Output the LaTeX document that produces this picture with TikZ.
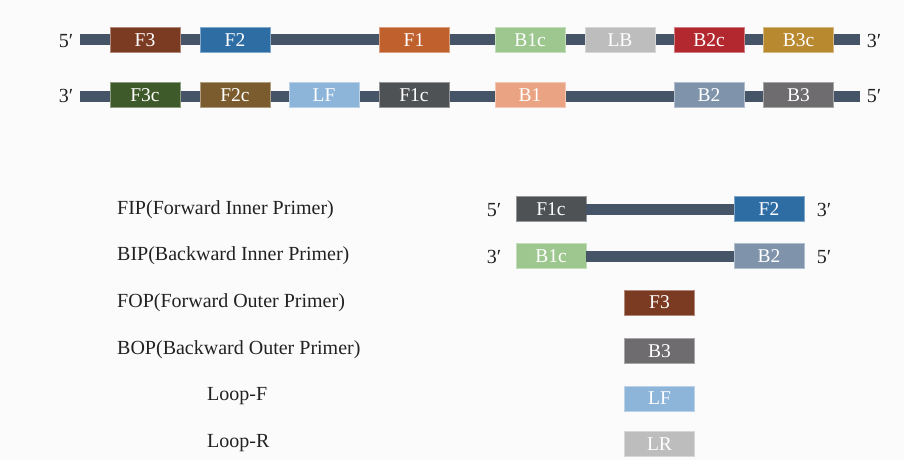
\documentclass[tikz,border=0pt]{standalone}
\usepackage{fontspec}
\setmainfont{Liberation Serif}
\definecolor{bar}{HTML}{465468}
\definecolor{cF3}{HTML}{7B3B23}
\definecolor{cF2}{HTML}{2E6DA4}
\definecolor{cF1}{HTML}{C0602C}
\definecolor{cB1c}{HTML}{9DC78F}
\definecolor{cLB}{HTML}{BDBDBD}
\definecolor{cB2c}{HTML}{B3282E}
\definecolor{cB3c}{HTML}{B8892F}
\definecolor{cF3c}{HTML}{3F5A2A}
\definecolor{cF2c}{HTML}{7A5C2E}
\definecolor{cLF}{HTML}{8DB4D9}
\definecolor{cF1c}{HTML}{4F5254}
\definecolor{cB1}{HTML}{EBA483}
\definecolor{cB2}{HTML}{7F93AB}
\definecolor{cB3}{HTML}{6E6C6E}
\definecolor{bg}{HTML}{FBFBFB}
\definecolor{txt}{HTML}{222222}
\begin{document}
\begin{tikzpicture}[x=1pt,y=-1pt,
  seg/.style={fill=#1, draw=#1!60!white, line width=0.6pt, minimum width=70pt, minimum height=25pt, inner sep=0pt, text=white, font=\fontsize{19.5}{19.5}\selectfont},
  strand/.style={draw=bar, line width=11pt},
  endlbl/.style={text=txt, font=\fontsize{20}{20}\selectfont, inner sep=0pt},
  lbl/.style={text=txt, font=\fontsize{20}{20}\selectfont, anchor=west, inner sep=0pt}]
\fill[bg] (0,0) rectangle (904,460);
\useasboundingbox (0,0) rectangle (904,460);
% strand 1
\coordinate (s1a) at (80,40);
\coordinate (s1b) at (860,40);
\draw[strand] (s1a) -- (s1b);
\node[seg=cF3] (t1) at (145,40) {F3};
\node[seg=cF2] (t2) at (235,40) {F2};
\node[seg=cF1] (t3) at (414,40) {F1};
\node[seg=cB1c] (t4) at (530,40) {B1c};
\node[seg=cLB] (t5) at (620,40) {LB};
\node[seg=cB2c] (t6) at (709,40) {B2c};
\node[seg=cB3c] (t7) at (798.5,40) {B3c};
\node[endlbl] (e1) at (66,41) {5′};
\node[endlbl] (e2) at (874,41) {3′};
% strand 2
\coordinate (s2a) at (80,96);
\coordinate (s2b) at (860,96);
\draw[strand] (s2a) -- (s2b);
\node[seg=cF3c] (u1) at (145,95) {F3c};
\node[seg=cF2c] (u2) at (235,95) {F2c};
\node[seg=cLF] (u3) at (324,95) {LF};
\node[seg=cF1c] (u4) at (414,95) {F1c};
\node[seg=cB1] (u5) at (530,95) {B1};
\node[seg=cB2] (u6) at (709,95) {B2};
\node[seg=cB3] (u7) at (798.5,95) {B3};
\node[endlbl] (e3) at (66,96) {3′};
\node[endlbl] (e4) at (874,96) {5′};
% FIP
\node[lbl] (l1) at (117,210) {FIP(Forward Inner Primer)};
\node[seg=cF1c] (p1) at (551,209) {F1c};
\node[seg=cF2] (p2) at (769,209) {F2};
\draw[strand] (p1.east) -- (p2.west);
\node[endlbl] (e5) at (494,210) {5′};
\node[endlbl] (e6) at (824,210) {3′};
% BIP
\node[lbl] (l2) at (117,256) {BIP(Backward Inner Primer)};
\node[seg=cB1c] (q1) at (551,256) {B1c};
\node[seg=cB2] (q2) at (769,256) {B2};
\draw[strand] (q1.east) -- (q2.west);
\node[endlbl] (e7) at (494,257) {3′};
\node[endlbl] (e8) at (824,257) {5′};
% outer primers and loops
\node[lbl] (l3) at (117,303) {FOP(Forward Outer Primer)};
\node[seg=cF3] (r1) at (659.5,302.5) {F3};
\node[lbl] (l4) at (117,350) {BOP(Backward Outer Primer)};
\node[seg=cB3] (r2) at (659.5,351) {B3};
\node[lbl] (l5) at (207,396) {Loop-F};
\node[seg=cLF] (r3) at (659.5,398.5) {LF};
\node[lbl] (l6) at (207,443) {Loop-R};
\node[seg=cLB] (r4) at (659.5,444) {LR};
\end{tikzpicture}
\end{document}
